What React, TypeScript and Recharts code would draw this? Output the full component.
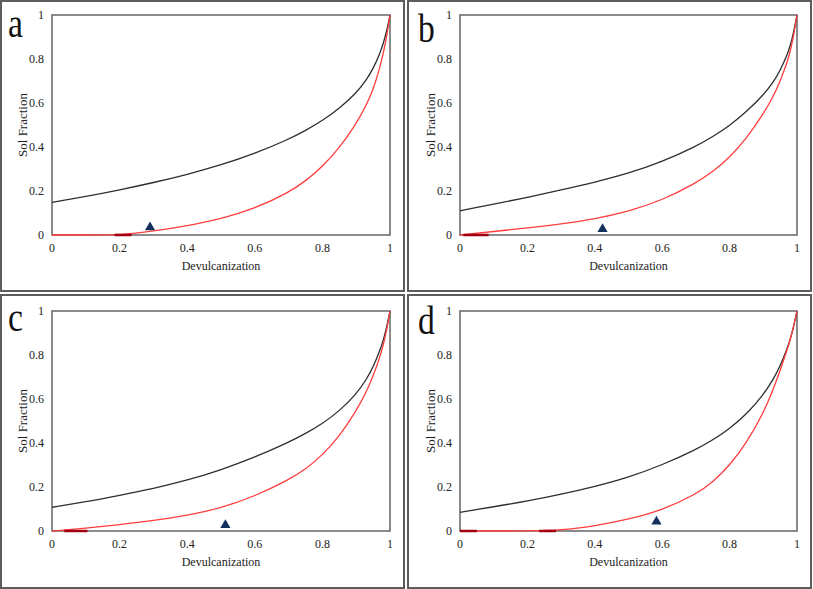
import {
  ComposedChart,
  Line,
  Scatter,
  XAxis,
  YAxis,
  ZAxis,
  ReferenceArea,
  Label,
} from 'recharts';

// shared x grid (degree of devulcanization), denser towards 1 where the curves turn up
const X_GRID = [0, 0.1, 0.2, 0.3, 0.4, 0.5, 0.6, 0.7, 0.75, 0.8, 0.85, 0.9, 0.93, 0.95, 0.97, 0.98, 0.99, 1];
const X_TICKS = [0, 0.2, 0.4, 0.6, 0.8, 1];
const Y_TICKS = [0, 0.2, 0.4, 0.6, 0.8, 1];

// panel a
const A_BLACK = [0.148, 0.175, 0.205, 0.238, 0.275, 0.318, 0.37, 0.435, 0.475, 0.52, 0.575, 0.645, 0.705, 0.755, 0.825, 0.87, 0.925, 1];
const A_RED = [0, 0, 0, 0.017, 0.042, 0.073, 0.12, 0.193, 0.245, 0.31, 0.395, 0.505, 0.59, 0.66, 0.76, 0.825, 0.9, 1];
const A_SEGMENTS = [[0.185, 0.235]];
const A_MARKER = [0.29, 0.035];

// panel b
const B_BLACK = [0.11, 0.14, 0.171, 0.205, 0.24, 0.28, 0.333, 0.403, 0.447, 0.497, 0.56, 0.636, 0.695, 0.748, 0.815, 0.86, 0.92, 1];
const B_RED = [0, 0.016, 0.032, 0.05, 0.073, 0.107, 0.158, 0.236, 0.287, 0.352, 0.438, 0.55, 0.63, 0.7, 0.78, 0.835, 0.905, 1];
const B_SEGMENTS = [[0.01, 0.085]];
const B_MARKER = [0.423, 0.027];

// panel c
const C_BLACK = [0.108, 0.133, 0.162, 0.193, 0.23, 0.278, 0.335, 0.403, 0.443, 0.488, 0.545, 0.622, 0.688, 0.745, 0.82, 0.865, 0.925, 1];
const C_RED = [0, 0.013, 0.029, 0.047, 0.07, 0.104, 0.158, 0.232, 0.28, 0.345, 0.43, 0.545, 0.632, 0.703, 0.79, 0.845, 0.91, 1];
const C_SEGMENTS = [[0.036, 0.105]];
const C_MARKER = [0.513, 0.027];

// panel d
const D_BLACK = [0.085, 0.11, 0.136, 0.167, 0.202, 0.244, 0.3, 0.37, 0.413, 0.465, 0.53, 0.618, 0.69, 0.75, 0.825, 0.87, 0.93, 1];
const D_RED = [0, 0, 0, 0.003, 0.023, 0.053, 0.095, 0.166, 0.222, 0.298, 0.4, 0.535, 0.645, 0.73, 0.82, 0.87, 0.93, 1];
const D_SEGMENTS = [[0, 0.05], [0.235, 0.285]];
const D_MARKER = [0.583, 0.043];

const FONT = '"Liberation Serif", "Times New Roman", serif';
const TEXT = '#222';

const toPoints = (xs: number[], ys: number[]) => xs.map((x, i) => ({ x, y: ys[i] }));

interface PanelProps {
  black: number[];
  red: number[];
  segments: number[][];
  marker: number[];
  left: number;
  top: number;
  width: number;
  height: number;
  margin: { top: number; right: number; bottom: number; left: number };
}

function Panel({ black, red, segments, marker, left, top, width, height, margin }: PanelProps) {
  const tickStyle = { fontSize: 12, fill: TEXT, fontFamily: FONT };
  return (
    <div
      style={{
        position: 'absolute',
        left,
        top,
        width: width - 4,
        height: height - 4,
        border: '2px solid #5c5c5c',
      }}
    >
      <div style={{ position: 'absolute', left: -2, top: -2 }}>
        <ComposedChart width={width} height={height} margin={margin}>
          <XAxis
            type="number"
            dataKey="x"
            domain={[0, 1]}
            ticks={X_TICKS}
            tickLine={false}
            axisLine={false}
            height={30}
            tick={tickStyle}
          >
            <Label
              value="Devulcanization"
              position="bottom"
              offset={-4}
              style={{ fontSize: 12, fill: TEXT, fontFamily: FONT }}
            />
          </XAxis>
          <YAxis
            type="number"
            dataKey="y"
            domain={[0, 1]}
            ticks={Y_TICKS}
            tickLine={false}
            axisLine={false}
            width={47}
            tick={tickStyle}
          >
            <Label
              value="Sol Fraction"
              angle={-90}
              position="insideLeft"
              offset={17}
              style={{ fontSize: 13, fill: TEXT, fontFamily: FONT, textAnchor: 'middle' }}
            />
          </YAxis>
          <ZAxis range={[45, 45]} />
          <ReferenceArea
            x1={0}
            x2={1}
            y1={0}
            y2={1}
            fill="none"
            stroke="#666"
            strokeWidth={1.5}
            ifOverflow="visible"
          />
          <Line
            data={toPoints(X_GRID, black)}
            dataKey="y"
            type="basis"
            stroke="#2e2e2e"
            strokeWidth={1.3}
            dot={false}
            isAnimationActive={false}
          />
          <Line
            data={toPoints(X_GRID, red)}
            dataKey="y"
            type="basis"
            stroke="#ff3d3d"
            strokeWidth={1.3}
            dot={false}
            isAnimationActive={false}
          />
          {segments.map((s, i) => (
            <Line
              key={i}
              data={[{ x: s[0], y: 0 }, { x: s[1], y: 0 }]}
              dataKey="y"
              type="linear"
              stroke="#a00010"
              strokeWidth={2.5}
              dot={false}
              isAnimationActive={false}
            />
          ))}
          <Scatter
            data={[{ x: marker[0], y: marker[1] }]}
            dataKey="y"
            shape="triangle"
            fill="#12305e"
            isAnimationActive={false}
          />
        </ComposedChart>
      </div>
    </div>
  );
}

export default function App() {
  const topMargin = { top: 15, right: 15, bottom: 27, left: 5 };
  const bottomMargin = { top: 17, right: 15, bottom: 28, left: 5 };
  const letterStyle = { fontSize: 41, fill: '#111', fontFamily: FONT };
  return (
    <div style={{ position: 'absolute', left: 0, top: 0, width: 813, height: 589, background: '#fff' }}>
      <Panel black={A_BLACK} red={A_RED} segments={A_SEGMENTS} marker={A_MARKER}
        left={0} top={0} width={405} height={292} margin={topMargin} />
      <Panel black={B_BLACK} red={B_RED} segments={B_SEGMENTS} marker={B_MARKER}
        left={407} top={0} width={405} height={292} margin={{ ...topMargin, left: 6 }} />
      <Panel black={C_BLACK} red={C_RED} segments={C_SEGMENTS} marker={C_MARKER}
        left={0} top={294} width={405} height={295} margin={bottomMargin} />
      <Panel black={D_BLACK} red={D_RED} segments={D_SEGMENTS} marker={D_MARKER}
        left={407} top={294} width={405} height={295} margin={{ ...bottomMargin, left: 6 }} />
      <svg width={813} height={589} style={{ position: 'absolute', left: 0, top: 0, pointerEvents: 'none' }}>
        <text x={8} y={37} transform="translate(8 37) scale(0.82 1) translate(-8 -37)" style={letterStyle}>a</text>
        <text x={418} y={42} transform="translate(418 42) scale(0.82 1) translate(-418 -42)" style={letterStyle}>b</text>
        <text x={8} y={331} transform="translate(8 331) scale(0.82 1) translate(-8 -331)" style={letterStyle}>c</text>
        <text x={418} y={334} transform="translate(418 334) scale(0.82 1) translate(-418 -334)" style={letterStyle}>d</text>
      </svg>
    </div>
  );
}
